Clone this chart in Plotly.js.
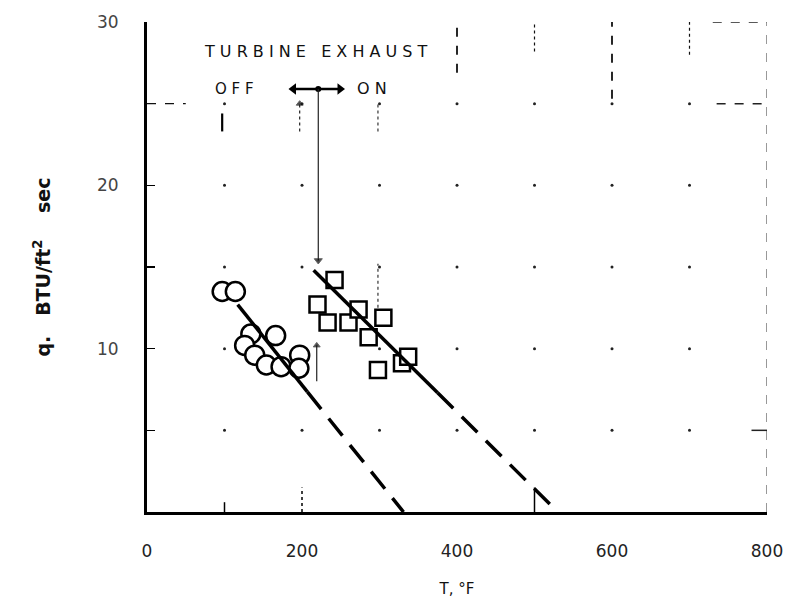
<!DOCTYPE html>
<html>
<head>
<meta charset="utf-8">
<script src="https://cdn.plot.ly/plotly-3.0.1.min.js"></script>
<style>html,body{margin:0;padding:0;background:#fff;}#chart{width:797px;height:600px;}</style>
</head>
<body>
<div id="chart"></div>
<script>
// ---- data ----
const offT = [97, 114, 134, 166, 126, 139, 154, 173, 197, 196];
const offQ = [13.5, 13.5, 10.9, 10.8, 10.2, 9.6, 9.0, 8.9, 9.6, 8.8];
const onT  = [220, 242, 233, 260, 273, 305, 286, 298, 329, 337];
const onQ  = [12.7, 14.2, 11.6, 11.6, 12.4, 11.9, 10.7, 8.7, 9.1, 9.5];

const offFitSolidT = [117, 207], offFitSolidQ = [12.7, 7.35];
const offFitDashT  = [207, 331], offFitDashQ  = [7.35, 0];
const onFitSolidT  = [215, 375], onFitSolidQ  = [14.8, 7.3];
const onFitDashT   = [375, 530], onFitDashQ   = [7.3, 0];

const xTicks = [0, 200, 400, 600, 800];
const yTicks = [10, 20, 30];
const gridX = [100, 200, 300, 400, 500, 600, 700];
const gridY = [5, 10, 15, 20, 25];

// annotation arrows (turbine exhaust off/on marker)
const switchT = 221, switchQ = 25.9;
const bracketT = [189, 249];
const dropQ = [25.9, 15.4];
const upArrowA = {t: 197, q: [23.3, 25.0]};
const upArrowB = {t: 219, q: [8.0, 10.2]};

// grid dots at intersections
const dotX = [], dotY = [];
gridX.forEach(gx => gridY.forEach(gy => { dotX.push(gx); dotY.push(gy); }));

const K = '#000';
const traces = [
  {x: dotX, y: dotY, mode: 'markers', marker: {size: 3, color: '#222'}, hoverinfo: 'skip'},
  {x: offT, y: offQ, mode: 'markers',
   marker: {symbol: 'circle', size: 19, color: '#fff', line: {color: K, width: 2.5}}},
  {x: onT, y: onQ, mode: 'markers',
   marker: {symbol: 'square', size: 16, color: '#fff', line: {color: K, width: 2.5}}},
  {x: offFitSolidT, y: offFitSolidQ, mode: 'lines', line: {color: K, width: 3.5}},
  {x: offFitDashT, y: offFitDashQ, mode: 'lines', line: {color: K, width: 3.5, dash: '22px,12px'}},
  {x: onFitSolidT, y: onFitSolidQ, mode: 'lines', line: {color: K, width: 3.5}},
  {x: onFitDashT, y: onFitDashQ, mode: 'lines', line: {color: K, width: 3.5, dash: '22px,12px'}},
  // double arrow OFF <-> ON
  {x: bracketT, y: [switchQ, switchQ], mode: 'lines+markers', line: {color: K, width: 2.5},
   marker: {symbol: ['triangle-left', 'triangle-right'], size: 10, color: K}},
  {x: [switchT], y: [switchQ], mode: 'markers', marker: {size: 6, color: K}},
  // vertical drop line with arrow
  {x: [switchT, switchT], y: dropQ, mode: 'lines+markers', line: {color: '#222', width: 1.2},
   marker: {symbol: ['circle', 'triangle-down'], size: [0, 7], color: K}},
  {x: [upArrowA.t, upArrowA.t], y: upArrowA.q, mode: 'lines+markers', line: {color: '#222', width: 1.2, dash: 'dot'},
   marker: {symbol: ['circle', 'triangle-up'], size: [0, 6], color: K}},
  {x: [upArrowB.t, upArrowB.t], y: upArrowB.q, mode: 'lines+markers', line: {color: '#222', width: 1.2},
   marker: {symbol: ['circle', 'triangle-up'], size: [0, 6], color: K}}
];

const thin = {color: '#333', width: 1.2, dash: 'dot'};
const shapes = [
  // x-axis inner ticks
  {type: 'line', x0: 100, x1: 100, y0: 0, y1: 0.6, line: {color: K, width: 1.5}},
  {type: 'line', x0: 200, x1: 200, y0: 0, y1: 1.5, line: {color: K, width: 1.5, dash: 'dot'}},
  {type: 'line', x0: 500, x1: 500, y0: 0, y1: 1.5, line: {color: K, width: 1.5}},
  // partial right frame and top frame pieces
  {type: 'line', x0: 800, x1: 800, y0: 0, y1: 30, line: {color: '#555', width: 1.2, dash: 'dash'}},
  {type: 'line', x0: 730, x1: 800, y0: 30, y1: 30, line: {color: '#222', width: 1.5, dash: 'dash'}},
  {type: 'line', x0: 735, x1: 800, y0: 25, y1: 25, line: {color: '#222', width: 1.5, dash: 'dash'}},
  {type: 'line', x0: 780, x1: 800, y0: 5, y1: 5, line: {color: '#222', width: 1.5}},
  {type: 'line', x0: 400, x1: 400, y0: 26.9, y1: 30, line: {color: '#111', width: 1.8, dash: 'dash'}},
  {type: 'line', x0: 500, x1: 500, y0: 28.2, y1: 30, line: {color: '#111', width: 1.2, dash: 'dot'}},
  {type: 'line', x0: 600, x1: 600, y0: 25.3, y1: 30, line: {color: '#111', width: 1.8, dash: 'dash'}},
  {type: 'line', x0: 700, x1: 700, y0: 28.0, y1: 30, line: {color: '#111', width: 1.2, dash: 'dot'}},
  // left axis inner tick at 25 (longer)
  {type: 'line', x0: 0, x1: 50, y0: 25, y1: 25, line: {color: '#111', width: 1.2, dash: 'dash'}},
  // OFF marker bar
  {type: 'line', x0: 97, x1: 97, y0: 23.3, y1: 24.4, line: {color: K, width: 2.2}},
  // small dotted verticals
  {type: 'line', x0: 298, x1: 298, y0: 23.3, y1: 25.1, line: thin},
  {type: 'line', x0: 298, x1: 298, y0: 12.5, y1: 15.2, line: thin}
];

const lab = {family: 'DejaVu Sans', size: 16, color: '#111'};
const annotations = [
  {x: 218, y: 28.2, text: 'T U R B I N E \u00a0 E X H A U S T', showarrow: false, font: lab},
  {x: 113, y: 25.9, text: 'O F F', showarrow: false, font: {family: 'DejaVu Sans', size: 15, color: '#111'}},
  {x: 290, y: 25.9, text: 'O N', showarrow: false, font: lab}
];

const layout = {
  width: 797, height: 600,
  margin: {l: 147, r: 30, t: 22, b: 88},
  paper_bgcolor: '#fff', plot_bgcolor: '#fff',
  showlegend: false,
  font: {family: 'DejaVu Sans', color: '#111'},
  xaxis: {
    range: [0, 800], tickvals: xTicks, ticktext: xTicks.map(String),
    showgrid: false, zeroline: false, showline: true, linecolor: K, linewidth: 3,
    ticks: '', ticklabelstandoff: 22,
    tickfont: {family: 'DejaVu Sans', size: 17, color: '#222'},
    title: {text: 'T, °F', standoff: 24, font: {family: 'DejaVu Sans', size: 15, color: '#111'}},
    fixedrange: true
  },
  yaxis: {
    range: [0, 30], tickvals: yTicks, ticktext: yTicks.map(String),
    showgrid: false, zeroline: false, showline: true, linecolor: K, linewidth: 3,
    ticks: 'inside', ticklen: 8, tickwidth: 1.5, tickcolor: K,
    minor: {dtick: 5, ticks: 'inside', ticklen: 8, tickwidth: 1.5, tickcolor: K},
    ticklabelstandoff: 22,
    tickfont: {family: 'DejaVu Sans', size: 17, color: '#444'},
    title: {text: 'q.\u00a0\u00a0 BTU/ft<sup>2</sup>\u00a0\u00a0\u00a0 sec', standoff: 42,
            font: {family: 'DejaVu Sans', size: 19, color: '#111', weight: 'bold'}},
    fixedrange: true
  },
  shapes: shapes,
  annotations: annotations
};

Plotly.newPlot('chart', traces, layout, {displayModeBar: false, staticPlot: true});
</script>
</body>
</html>
